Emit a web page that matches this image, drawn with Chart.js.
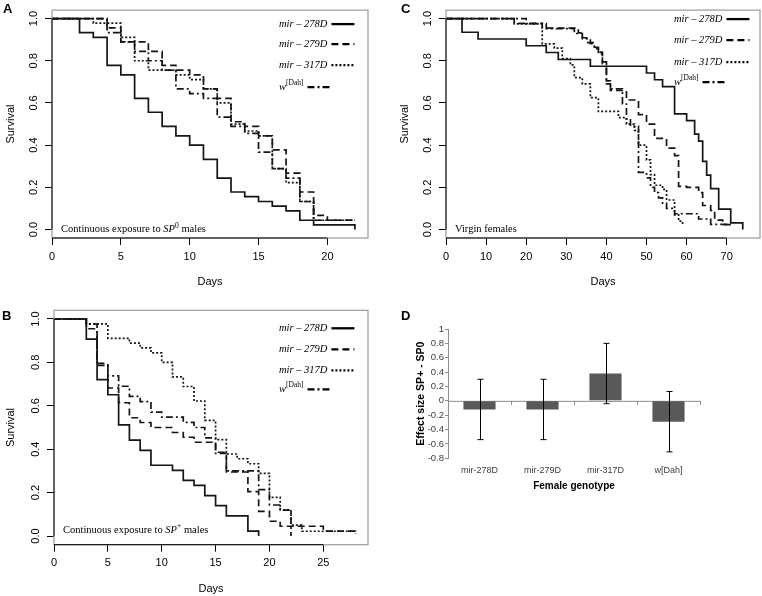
<!DOCTYPE html>
<html>
<head>
<meta charset="utf-8">
<script src="https://cdn.jsdelivr.net/npm/chart.js@4.4.0/dist/chart.umd.min.js"></script>
<style>
  body { margin: 0; background: #fff; }
  #page { position: relative; width: 762px; height: 596px; overflow: hidden; background: #fff; }
  .panel { position: absolute; }
  .tag { position: absolute; font: bold 13px "Liberation Sans", Arial, sans-serif; line-height: 13px; }
</style>
</head>
<body>
<div id="page">
  <canvas id="chartA" class="panel" width="380" height="300" style="left:0;top:0"></canvas>
  <canvas id="chartC" class="panel" width="368" height="300" style="left:394px;top:0"></canvas>
  <canvas id="chartB" class="panel" width="380" height="296" style="left:0;top:300px"></canvas>
  <canvas id="chartD" class="panel" width="382" height="200" style="left:380px;top:300px"></canvas>
  <div class="tag" style="left:3px;top:2px">A</div>
  <div class="tag" style="left:401px;top:2px">C</div>
  <div class="tag" style="left:2px;top:309px">B</div>
  <div class="tag" style="left:401px;top:309px">D</div>
</div>
<script>
const seriesNames = ['mir – 278D', 'mir – 279D', 'mir – 317D', 'w[Dah]'];
const survivalTicks = [0, 0.2, 0.4, 0.6, 0.8, 1.0];

// Panel A - continuous exposure to SP0 males  ([day, survival])
const daysTicksA = [0, 5, 10, 15, 20];
const a278D = [[0,1],[2,0.933],[3,0.911],[4,0.778],[5,0.733],[6,0.622],[7,0.556],[8,0.489],[9,0.444],[10,0.4],[11,0.333],[12,0.244],[13,0.178],[14,0.156],[15,0.133],[16,0.111],[17,0.089],[18,0.044],[19,0.022],[22,0.022],[22,0]];
const a279D = [[0,1],[4,0.956],[5,0.889],[7,0.844],[8,0.778],[9,0.756],[10,0.733],[11,0.667],[12,0.622],[13,0.511],[14,0.489],[15,0.444],[16,0.378],[17,0.267],[18,0.178],[19,0.067],[20,0.044],[22,0.044]];
const a317D = [[0,1],[3,0.978],[5,0.911],[6,0.8],[7,0.756],[9,0.733],[10,0.711],[11,0.667],[12,0.6],[13,0.5],[14,0.467],[15,0.444],[16,0.289],[17,0.222],[18,0.133],[19,0.044],[22,0.044]];
const aWDah = [[0,1],[4,0.933],[5,0.889],[6,0.844],[7,0.8],[8,0.756],[9,0.667],[10,0.644],[11,0.622],[12,0.533],[13,0.489],[14,0.456],[15,0.367],[16,0.289],[17,0.244],[18,0.133],[19,0.044],[22,0.044]];

// Panel B - continuous exposure to SP+ males
const daysTicksB = [0, 5, 10, 15, 20, 25];
const b278D = [[0,1],[3,0.907],[4,0.721],[5,0.651],[6,0.512],[7,0.442],[8,0.395],[9,0.326],[11,0.302],[12,0.256],[13,0.233],[14,0.186],[15,0.14],[16,0.093],[18,0.023],[19,0]];
const b279D = [[0,1],[3,0.955],[4,0.795],[5,0.682],[6,0.614],[7,0.545],[8,0.523],[9,0.5],[11,0.477],[12,0.455],[13,0.432],[15,0.386],[16,0.295],[18,0.205],[19,0.114],[20,0.068],[21,0.045],[25,0.023],[28,0.023]];
const b317D = [[0,1],[3,0.977],[5,0.911],[7,0.889],[8,0.867],[9,0.844],[10,0.8],[11,0.733],[12,0.689],[13,0.622],[14,0.533],[15,0.444],[16,0.378],[17,0.356],[18,0.333],[19,0.289],[20,0.178],[21,0.12],[22,0.05],[23,0.022],[28,0.022],[28,0.01]];
const bWDah = [[0,1],[3,0.976],[4,0.786],[5,0.738],[6,0.69],[7,0.643],[8,0.619],[9,0.571],[10,0.548],[12,0.524],[13,0.5],[14,0.452],[15,0.381],[16,0.3],[19,0.214],[20,0.143],[21,0.119],[22,0]];

// Panel C - virgin females
const daysTicksC = [0, 10, 20, 30, 40, 50, 60, 70];
const c278D = [[0,1],[4,0.935],[8,0.903],[20,0.871],[25,0.839],[28,0.806],[36,0.774],[50,0.742],[52,0.71],[54,0.677],[57,0.548],[60,0.516],[62,0.452],[63,0.419],[64,0.323],[65,0.258],[66,0.194],[68,0.097],[71,0.032],[74,0.032],[74,0]];
const c279D = [[0,1],[17,0.977],[24,0.955],[33,0.932],[34,0.909],[35,0.886],[37,0.864],[38,0.841],[39,0.795],[40,0.705],[41,0.659],[45,0.614],[48,0.545],[50,0.5],[52,0.432],[55,0.386],[57,0.35],[58,0.205],[60,0.2],[63,0.175],[64,0.114],[66,0.091],[67,0.045],[69,0.023],[71,0.023]];
const c317D = [[0,1],[17,0.975],[24,0.88],[27,0.86],[29,0.81],[31,0.78],[32,0.72],[34,0.69],[36,0.625],[38,0.56],[43,0.53],[45,0.5],[47,0.47],[48,0.4],[50,0.33],[51,0.26],[52,0.21],[54,0.19],[55,0.14],[57,0.07],[58,0.04],[59,0.02]];
const cWDah = [[0,1],[20,0.976],[25,0.952],[32,0.929],[34,0.905],[36,0.881],[37,0.857],[38,0.833],[39,0.786],[40,0.69],[41,0.667],[44,0.595],[45,0.524],[46,0.49],[48,0.271],[50,0.245],[51,0.2],[52,0.175],[53,0.15],[54,0.125],[55,0.1],[57,0.075],[63,0.05],[66,0.025],[71,0.025]];

// Panel D - effect size SP+ - SP0
const genotypes = ['mir-278D', 'mir-279D', 'mir-317D', 'w[Dah]'];
const effectSize = [-0.12, -0.12, 0.38, -0.29];
const errLower = [-0.54, -0.54, -0.04, -0.71];
const errUpper = [0.30, 0.30, 0.80, 0.13];

Chart.defaults.font.family = '"Liberation Sans", Arial, sans-serif';
Chart.defaults.color = '#000';

const dashes = [[], [7, 4], [2, 2], [7, 3, 2, 3]];
const serif = '"Liberation Serif", "Times New Roman", serif';

function drawNote(ctx, parts, x, y) {
    // parts: [text, style] where style is 'n', 'i' or 'sup'
    parts.forEach(([t, st]) => {
        if (st === 'sup') {
            ctx.font = `7.5px ${serif}`;
            ctx.fillText(t, x, y - 4);
        } else {
            ctx.font = `${st === 'i' ? 'italic ' : ''}10.5px ${serif}`;
            ctx.fillText(t, x, y);
        }
        x += ctx.measureText(t).width;
    });
    return x;
}

function survivalChart(id, curves, p) {
    const frame = {
        id: 'frame',
        afterDraw(chart) {
            const { ctx, chartArea: a, scales: { x, y } } = chart;
            ctx.save();
            ctx.strokeStyle = '#9c9c9c';
            ctx.lineWidth = 1.2;
            ctx.strokeRect(a.left, a.top, a.right - a.left, a.bottom - a.top);
            ctx.strokeStyle = '#000';
            ctx.lineWidth = 1;
            ctx.beginPath();
            ctx.moveTo(x.getPixelForValue(p.xTicks[0]), a.bottom);
            ctx.lineTo(x.getPixelForValue(p.xTicks[p.xTicks.length - 1]), a.bottom);
            ctx.moveTo(a.left, y.getPixelForValue(0));
            ctx.lineTo(a.left, y.getPixelForValue(1));
            ctx.stroke();

            // legend: label then line sample
            ctx.fillStyle = '#000';
            ctx.textBaseline = 'middle';
            seriesNames.forEach((name, i) => {
                const ty = a.top + p.keyRows[i];
                let tx = a.left + p.keyX;
                if (name.startsWith('w[')) {
                    tx = drawNote(ctx, [['w', 'i'], ['[Dah]', 'sup']], tx, ty);
                } else {
                    tx = drawNote(ctx, [[name, 'i']], tx, ty);
                }
                ctx.beginPath();
                ctx.setLineDash(dashes[i]);
                ctx.lineWidth = 2.3;
                ctx.moveTo(tx + 4, ty);
                ctx.lineTo(tx + 27, ty);
                ctx.stroke();
            });
            ctx.setLineDash([]);
            drawNote(ctx, p.note, a.left + 9, y.getPixelForValue(p.noteY));
            ctx.restore();
        }
    };

    new Chart(document.getElementById(id), {
        type: 'line',
        data: {
            datasets: curves.map((c, i) => ({
                label: seriesNames[i],
                data: c.map(([d, s]) => ({ x: d, y: s })),
                stepped: true,
                borderColor: '#151515',
                borderWidth: 1.7,
                borderDash: dashes[i],
                pointRadius: 0,
                fill: false,
            })),
        },
        options: {
            responsive: false,
            animation: false,
            events: [],
            layout: { padding: { top: p.top, right: p.right, left: 0, bottom: 0 } },
            plugins: { legend: { display: false }, tooltip: { enabled: false } },
            scales: {
                x: {
                    type: 'linear',
                    min: 0,
                    max: p.xMax,
                    afterBuildTicks: s => { s.ticks = p.xTicks.map(v => ({ value: v })); },
                    afterFit: s => { s.height = p.xHeight; },
                    grid: { drawOnChartArea: false, drawTicks: true, tickLength: 7, tickColor: '#000' },
                    border: { display: false },
                    ticks: { padding: 5, maxRotation: 0, autoSkip: false, font: { size: 11 } },
                    title: { display: true, text: 'Days', font: { size: 11 }, padding: { top: 0, bottom: p.titlePad } },
                },
                y: {
                    min: -0.04,
                    max: 1.04,
                    afterBuildTicks: s => { s.ticks = survivalTicks.map(v => ({ value: v })); },
                    afterFit: s => { s.width = p.yWidth; },
                    grid: { drawOnChartArea: false, drawTicks: true, tickLength: 7, tickColor: '#000' },
                    border: { display: false },
                    ticks: {
                        minRotation: 90, maxRotation: 90, crossAlign: 'center', padding: 3.5,
                        autoSkip: false, font: { size: 11 },
                        callback: v => v.toFixed(1),
                    },
                    title: { display: true, text: 'Survival', font: { size: 11 }, padding: { top: 4, bottom: 0 } },
                },
            },
        },
        plugins: [frame],
    });
}

function effectChart() {
    const extras = {
        id: 'extras',
        beforeDatasetsDraw(chart) {
            const { ctx, chartArea: a, scales: { y } } = chart;
            const y0 = y.getPixelForValue(0);
            const step = (a.right - a.left) / genotypes.length;
            ctx.save();
            ctx.strokeStyle = '#8c8c8c';
            ctx.lineWidth = 1;
            ctx.beginPath();
            ctx.moveTo(a.left, y0 + 0.5);
            ctx.lineTo(a.right, y0 + 0.5);
            for (let k = 0; k <= genotypes.length; k++) {
                ctx.moveTo(a.left + k * step + 0.5, y0);
                ctx.lineTo(a.left + k * step + 0.5, y0 + 4);
            }
            ctx.stroke();
            ctx.restore();
        },
        afterDatasetsDraw(chart) {
            const { ctx, scales: { x, y } } = chart;
            ctx.save();
            ctx.strokeStyle = '#000';
            ctx.lineWidth = 1;
            ctx.beginPath();
            genotypes.forEach((g, i) => {
                const px = Math.round(x.getPixelForValue(i)) + 0.5;
                const hi = y.getPixelForValue(errUpper[i]);
                const lo = y.getPixelForValue(errLower[i]);
                ctx.moveTo(px, hi); ctx.lineTo(px, lo);
                ctx.moveTo(px - 3, hi); ctx.lineTo(px + 3, hi);
                ctx.moveTo(px - 3, lo); ctx.lineTo(px + 3, lo);
            });
            ctx.stroke();
            ctx.restore();
        }
    };

    new Chart(document.getElementById('chartD'), {
        type: 'bar',
        data: {
            labels: genotypes,
            datasets: [{
                data: effectSize,
                backgroundColor: '#595959',
                categoryPercentage: 1,
                barPercentage: 0.51,
            }],
        },
        options: {
            responsive: false,
            animation: false,
            events: [],
            layout: { padding: { top: 29, right: 62, left: 0, bottom: 0 } },
            plugins: { legend: { display: false }, tooltip: { enabled: false } },
            scales: {
                x: {
                    afterFit: s => { s.height = 41.7; },
                    grid: { display: false, drawTicks: false },
                    border: { display: false },
                    ticks: { padding: 7, color: '#404040', font: { size: 9 } },
                    title: { display: true, text: 'Female genotype', font: { size: 10, weight: 'bold' }, padding: { top: 0, bottom: 8 } },
                },
                y: {
                    min: -0.8,
                    max: 1,
                    afterFit: s => { s.width = 68; },
                    grid: { drawOnChartArea: false, drawTicks: true, tickLength: 3, tickColor: '#8c8c8c' },
                    border: { display: true, color: '#8c8c8c' },
                    ticks: {
                        stepSize: 0.2, autoSkip: false, padding: 1, color: '#404040', font: { size: 9.5 },
                        callback: v => String(+v.toFixed(1)),
                    },
                    title: { display: true, text: 'Effect size SP+ - SP0', font: { size: 10.5, weight: 'bold' }, padding: { top: 35, bottom: 0 } },
                },
            },
        },
        plugins: [extras],
    });
}

window.onload = () => {
    survivalChart('chartA', [a278D, a279D, a317D, aWDah], {
        xMax: 22.95, xTicks: daysTicksA, top: 3, right: 12, xHeight: 62, yWidth: 52, titlePad: 11,
        keyX: 227, keyRows: [14, 34, 55, 77],
        note: [['Continuous exposure to ', 'n'], ['SP', 'i'], ['0', 'sup'], [' males', 'n']], noteY: 0,
    });
    survivalChart('chartB', [b278D, b279D, b317D, bWDah], {
        xMax: 29.15, xTicks: daysTicksB, top: 10.3, right: 12, xHeight: 51.3, yWidth: 54, titlePad: 0,
        keyX: 225, keyRows: [18, 39, 60, 79],
        note: [['Continuous exposure to ', 'n'], ['SP', 'i'], ['+', 'sup'], [' males', 'n']], noteY: 0.028,
    });
    survivalChart('chartC', [c278D, c279D, c317D, cWDah], {
        xMax: 78.3, xTicks: daysTicksC, top: 3, right: 2, xHeight: 62, yWidth: 52, titlePad: 11,
        keyX: 228, keyRows: [9, 30, 52, 72],
        note: [['Virgin females', 'n']], noteY: 0,
    });
    effectChart();
};
</script>
</body>
</html>
